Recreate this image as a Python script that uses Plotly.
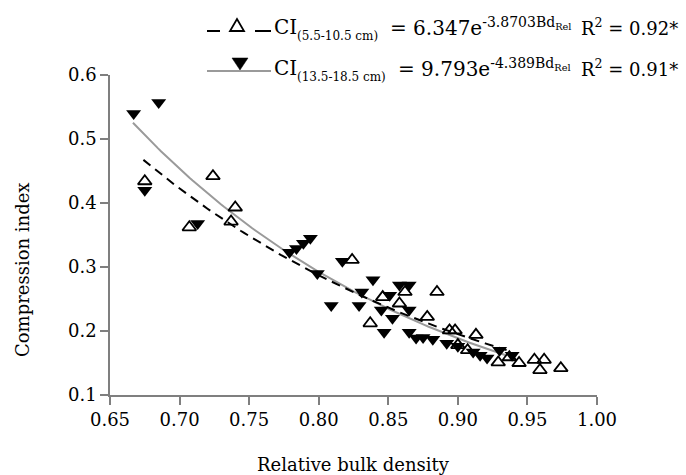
import numpy as np
import plotly.graph_objects as go

# ---------------- data ----------------
# CI (5.5-10.5 cm) - open triangles
rbd_shallow = [0.675, 0.707, 0.724, 0.737, 0.740, 0.824, 0.837, 0.846, 0.858, 0.862,
               0.878, 0.885, 0.894, 0.898, 0.900, 0.907, 0.913, 0.929, 0.937, 0.944,
               0.955, 0.959, 0.962, 0.974]
ci_shallow = [0.434, 0.362, 0.442, 0.371, 0.393, 0.311, 0.212, 0.253, 0.243, 0.261,
              0.222, 0.261, 0.201, 0.201, 0.178, 0.170, 0.194, 0.151, 0.159, 0.150,
              0.155, 0.139, 0.155, 0.142]

# CI (13.5-18.5 cm) - filled triangles
rbd_deep = [0.667, 0.685, 0.675, 0.713, 0.779, 0.784, 0.789, 0.794, 0.799, 0.809,
            0.817, 0.829, 0.831, 0.839, 0.845, 0.847, 0.851, 0.853, 0.858, 0.865,
            0.865, 0.865, 0.870, 0.875, 0.882, 0.892, 0.900, 0.911, 0.916, 0.921,
            0.930, 0.939]
ci_deep = [0.540, 0.557, 0.420, 0.368, 0.323, 0.329, 0.337, 0.345, 0.290, 0.240,
           0.309, 0.240, 0.261, 0.280, 0.233, 0.198, 0.256, 0.220, 0.272, 0.272,
           0.233, 0.198, 0.189, 0.190, 0.187, 0.181, 0.176, 0.167, 0.162, 0.158,
           0.170, 0.162]

# fitted equations  CI = a * exp(b * BdRel), drawn over [x0, x1]
fit_shallow = (6.347, -3.8703, 0.674, 0.935)
fit_deep = (9.793, -4.389, 0.6665, 0.935)

x_ticks = [0.65, 0.70, 0.75, 0.80, 0.85, 0.90, 0.95, 1.00]
y_ticks = [0.1, 0.2, 0.3, 0.4, 0.5, 0.6]

legend_rows = [
    # (depth label, equation, r2)
    ("(5.5-10.5 cm)", "= 6.347e<sup>-3.8703Bd<sub>Rel</sub></sup>", "R<sup>2</sup> = 0.92*"),
    ("(13.5-18.5 cm)", "= 9.793e<sup>-4.389Bd<sub>Rel</sub></sup>", "R<sup>2</sup> = 0.91*"),
]

# ---------------- layout constants ----------------
W, H = 686, 475
L, R, T, B = 110, 89, 75, 80
PW, PH = W - L - R, H - T - B
SERIF = "DejaVu Serif"
AX = "#7f7f7f"


def px(x):
    return (x - L) / PW


def py(y):
    return (H - B - y) / PH


fig = go.Figure()


def fit_curve(p):
    a, b, x0, x1 = p
    xs = np.linspace(x0, x1, 120)
    return xs, a * np.exp(b * xs)


xs, ys = fit_curve(fit_deep)
fig.add_trace(go.Scatter(x=xs, y=ys, mode="lines",
                         line=dict(color="#9a9a9a", width=2), showlegend=False))
xs, ys = fit_curve(fit_shallow)
fig.add_trace(go.Scatter(x=xs, y=ys, mode="lines",
                         line=dict(color="black", width=2, dash="9px,6px"), showlegend=False))

fig.add_trace(go.Scatter(x=rbd_deep, y=ci_deep, mode="markers",
                         marker=dict(symbol="triangle-down", size=13, color="black",
                                     line=dict(width=0)), showlegend=False))
fig.add_trace(go.Scatter(x=rbd_shallow, y=ci_shallow, mode="markers",
                         marker=dict(symbol="triangle-up-open", size=12, color="black",
                                     line=dict(width=1.8)), showlegend=False))


# ---------------- legend keys (paper coordinates) ----------------
def tri_path(cx, cy, hw, hh, up=True):
    if up:
        pts = [(cx - hw, cy + hh), (cx + hw, cy + hh), (cx, cy - hh)]
    else:
        pts = [(cx - hw, cy - hh), (cx + hw, cy - hh), (cx, cy + hh)]
    return "M " + " L ".join(f"{px(a):.5f},{py(b):.5f}" for a, b in pts) + " Z"


shapes = [
    dict(type="line", xref="paper", yref="paper", x0=px(207), x1=px(220), y0=py(31), y1=py(31),
         line=dict(color="black", width=2)),
    dict(type="line", xref="paper", yref="paper", x0=px(255), x1=px(271), y0=py(31), y1=py(31),
         line=dict(color="black", width=2)),
    dict(type="path", xref="paper", yref="paper", path=tri_path(237, 25, 7, 6, True),
         fillcolor="white", line=dict(color="black", width=1.8)),
    dict(type="line", xref="paper", yref="paper", x0=px(207), x1=px(271), y0=py(71), y1=py(71),
         line=dict(color="#9a9a9a", width=2)),
    dict(type="path", xref="paper", yref="paper", path=tri_path(240, 64, 8, 6, False),
         fillcolor="black", line=dict(color="black", width=0.5)),
]

tf = dict(family=SERIF, size=20, color="black")
rf = dict(family=SERIF, size=18, color="black")
sf = dict(family=SERIF, size=12, color="black")
annotations = []
row_y = [27, 68]
eq_x = [388, 396]
for (sub_txt, eq_txt, r2_txt), yrow, ex in zip(legend_rows, row_y, eq_x):
    annotations.append(dict(x=px(272), y=py(yrow), xref="paper", yref="paper", text="CI",
                            showarrow=False, xanchor="left", yanchor="middle", font=tf))
    annotations.append(dict(x=px(295), y=py(yrow + 9), xref="paper", yref="paper", text=sub_txt,
                            showarrow=False, xanchor="left", yanchor="middle", font=sf))
    annotations.append(dict(x=px(ex), y=py(yrow), xref="paper", yref="paper", text=eq_txt,
                            showarrow=False, xanchor="left", yanchor="middle", font=tf))
    annotations.append(dict(x=px(579), y=py(yrow), xref="paper", yref="paper", text=r2_txt,
                            showarrow=False, xanchor="left", yanchor="middle", font=rf))

# axis titles
annotations.append(dict(x=px(353), y=py(464), xref="paper", yref="paper",
                        text="Relative bulk density", showarrow=False,
                        xanchor="center", yanchor="middle",
                        font=dict(family=SERIF, size=18, color="black")))
annotations.append(dict(x=px(22), y=py(270), xref="paper", yref="paper",
                        text="Compression index", showarrow=False, textangle=-90,
                        xanchor="center", yanchor="middle",
                        font=dict(family=SERIF, size=18, color="black")))

fig.update_layout(
    width=W, height=H,
    margin=dict(l=L, r=R, t=T, b=B),
    paper_bgcolor="white", plot_bgcolor="white",
    showlegend=False,
    font=dict(family=SERIF, size=18, color="black"),
    xaxis=dict(range=[0.65, 1.0], tickvals=x_ticks, ticktext=[f"{v:.2f}" for v in x_ticks],
               showgrid=False, zeroline=False, showline=True, linecolor=AX, linewidth=1.5,
               ticks="outside", ticklen=8, tickwidth=1.5, tickcolor=AX,
               tickfont=dict(family=SERIF, size=18, color="black")),
    yaxis=dict(range=[0.1, 0.6], tickvals=y_ticks, ticktext=[f"{v:.1f}" for v in y_ticks],
               showgrid=False, zeroline=False, showline=True, linecolor=AX, linewidth=1.5,
               ticks="outside", ticklen=8, tickwidth=1.5, tickcolor=AX,
               tickfont=dict(family=SERIF, size=18, color="black")),
    shapes=shapes,
    annotations=annotations,
)

fig.write_html("out.html")
